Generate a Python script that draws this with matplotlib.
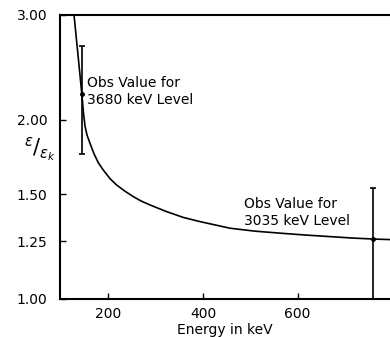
import matplotlib
matplotlib.use('Agg')
import matplotlib.pyplot as plt

# Curve (energy in keV, efficiency ratio)
energy_kev = [125.4, 127.6, 131.8, 136.0, 140.2, 144.5, 147.6, 150.8, 155.0,
              161.4, 169.8, 178.9, 189.4, 203.6, 217.7, 235.0, 252.8, 270.0,
              288.0, 323.3, 358.4, 393.7, 428.9, 457.0, 510.0, 563.0, 615.0,
              668.0, 715.0, 760.0, 800.0]
ratio = [3.118, 3.00, 2.777, 2.570, 2.378, 2.193, 2.053, 1.952, 1.886,
         1.826, 1.754, 1.694, 1.647, 1.593, 1.554, 1.518, 1.486, 1.46,
         1.439, 1.402, 1.371, 1.349, 1.33, 1.315, 1.30, 1.29, 1.281,
         1.273, 1.266, 1.261, 1.258]

# Observed values with error bars
obs_energy = [144, 760]
obs_ratio = [2.21, 1.261]
obs_err_low = [0.46, 0.27]
obs_err_high = [0.455, 0.275]
obs_labels = ['Obs Value for\n3680 keV Level', 'Obs Value for\n3035 keV Level']
label_pos = [(154, 2.23), (487, 1.397)]

yticks = [1.00, 1.25, 1.50, 2.00, 3.00]
ytick_labels = ['1.00', '1.25', '1.50', '2.00', '3.00']
xticks = [200, 400, 600]

fig = plt.figure(figsize=(3.9, 3.37), dpi=100)
ax = fig.add_axes([60 / 390, 1 - 299 / 337, 1 - 60 / 390, (299 - 15) / 337])

ax.plot(energy_kev, ratio, color='black', lw=1.2)
ax.errorbar(obs_energy, obs_ratio, yerr=[obs_err_low, obs_err_high], fmt='o',
            color='black', ms=2.5, elinewidth=1.2, capsize=2.5, capthick=1.2)

for text, (x, y) in zip(obs_labels, label_pos):
    ax.text(x, y, text, fontsize=10, va='center', ha='left', linespacing=1.25)

ax.set_yscale('log')
ax.set_ylim(1.0, 3.0)
ax.set_xlim(98, 795)
ax.set_yticks(yticks)
ax.set_yticklabels(ytick_labels)
ax.minorticks_off()
ax.set_xticks(xticks)
ax.tick_params(direction='in', length=4.5, width=1, labelsize=10)
ax.tick_params(axis='y', pad=9)
ax.tick_params(axis='x', pad=6)

for side in ['left', 'bottom', 'top']:
    ax.spines[side].set_linewidth(1.5)
ax.spines['right'].set_visible(False)

ax.set_xlabel('Energy in keV', fontsize=10, labelpad=1)

# y label: epsilon over epsilon_k as a slanted fraction
fig.text(40 / 390, 1 - 150 / 337, r'$^{\epsilon}/_{\epsilon_k}$', fontsize=15,
         ha='center', va='center')

fig.savefig('out.png', dpi=100)
